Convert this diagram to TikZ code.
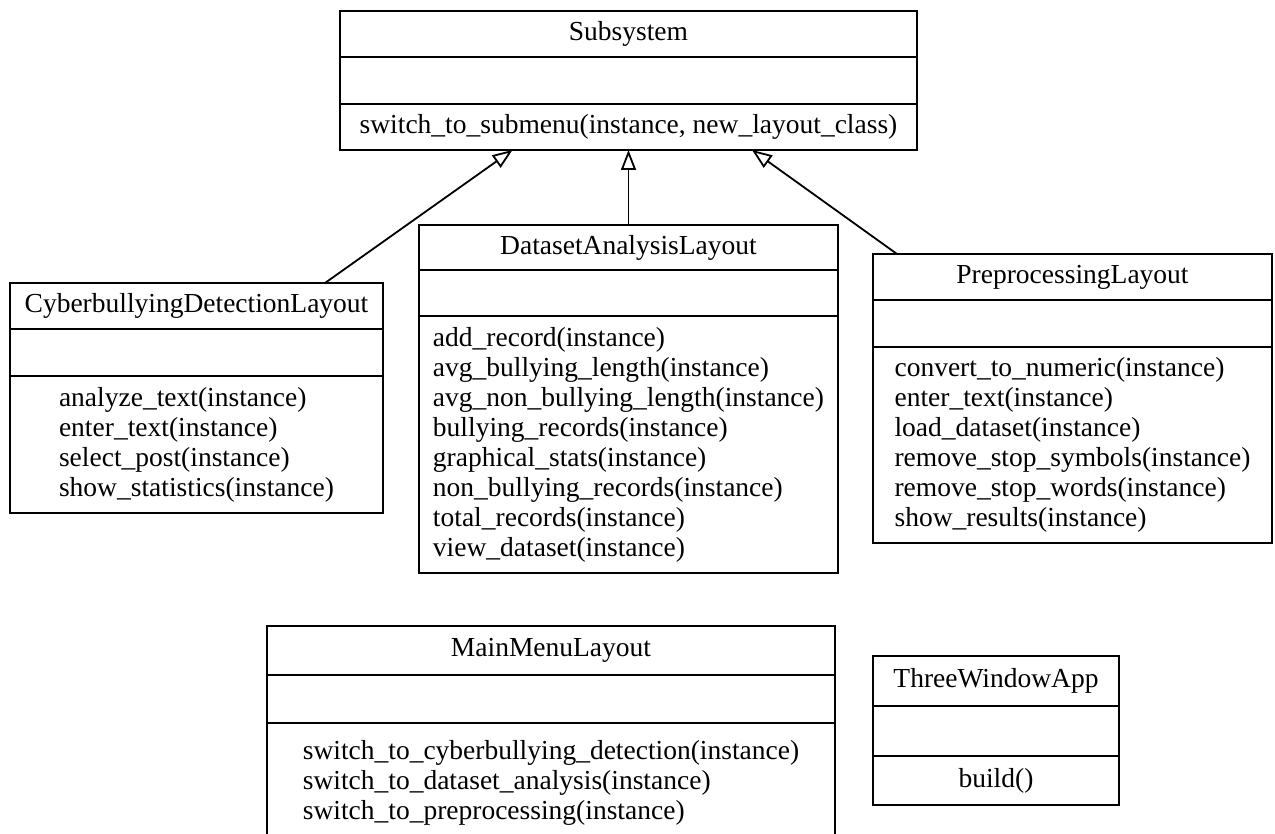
\documentclass[tikz,border=0pt]{standalone}
\usepackage{fontspec}
\setmainfont{Liberation Serif}
\usetikzlibrary{positioning,arrows.meta}

\begin{document}
\begin{tikzpicture}[x=0.5pt,y=-0.5pt,
		font=\fontsize{13.75pt}{15pt}\selectfont,
		part/.style={draw, line width=1pt, outer sep=0pt, inner sep=0pt, align=center},
		ops/.style={part, align=left},
		gen/.style={line width=0.9pt, -{Triangle[open,length=10pt,width=7.5pt]}}]
		\useasboundingbox (0,0) rectangle (1275,834);
		
		% Subsystem
		\node[part, anchor=north west, minimum width=288.5pt, minimum height=23pt] (sub) at (340,11) {Subsystem};
		\node[part, below=0pt of sub, minimum width=288.5pt, minimum height=23.5pt] (sub-attr) {};
		\node[ops, below=0pt of sub-attr, minimum width=288.5pt, minimum height=23pt] (sub-ops) {switch\_to\_submenu(instance, new\_layout\_class)};
		
		% CyberbullyingDetectionLayout
		\node[part, anchor=north west, minimum width=186.5pt, minimum height=23pt] (cyb) at (10,283) {CyberbullyingDetectionLayout};
		\node[part, below=0pt of cyb, minimum width=186.5pt, minimum height=23.5pt] (cyb-attr) {};
		\node[ops, below=0pt of cyb-attr, minimum width=186.5pt, minimum height=68.5pt] (cyb-ops) {analyze\_text(instance)\\enter\_text(instance)\\select\_post(instance)\\show\_statistics(instance)};
		
		% DatasetAnalysisLayout
		\node[part, anchor=north west, minimum width=209.5pt, minimum height=22.5pt] (dat) at (419,225) {DatasetAnalysisLayout};
		\node[part, below=0pt of dat, minimum width=209.5pt, minimum height=23pt] (dat-attr) {};
		\node[ops, below=0pt of dat-attr, minimum width=209.5pt, minimum height=128.5pt] (dat-ops) {add\_record(instance)\\avg\_bullying\_length(instance)\\avg\_non\_bullying\_length(instance)\\bullying\_records(instance)\\graphical\_stats(instance)\\non\_bullying\_records(instance)\\total\_records(instance)\\view\_dataset(instance)};
		
		% PreprocessingLayout
		\node[part, anchor=north west, minimum width=199.5pt, minimum height=23pt] (pre) at (873,254) {PreprocessingLayout};
		\node[part, below=0pt of pre, minimum width=199.5pt, minimum height=23.5pt] (pre-attr) {};
		\node[ops, below=0pt of pre-attr, minimum width=199.5pt, minimum height=98pt] (pre-ops) {convert\_to\_numeric(instance)\\enter\_text(instance)\\load\_dataset(instance)\\remove\_stop\_symbols(instance)\\remove\_stop\_words(instance)\\show\_results(instance)};
		
		% MainMenuLayout
		\node[part, anchor=north west, minimum width=284pt, minimum height=24.5pt] (menu) at (267,626) {MainMenuLayout};
		\node[part, below=0pt of menu, minimum width=284pt, minimum height=24pt] (menu-attr) {};
		\node[ops, below=0pt of menu-attr, minimum width=284pt, minimum height=60pt] (menu-ops) {switch\_to\_cyberbullying\_detection(instance)\\switch\_to\_dataset\_analysis(instance)\\switch\_to\_preprocessing(instance)};
		
		% ThreeWindowApp
		\node[part, anchor=north west, minimum width=123pt, minimum height=25pt] (app) at (873,656) {ThreeWindowApp};
		\node[part, below=0pt of app, minimum width=123pt, minimum height=25pt] (app-attr) {};
		\node[ops, below=0pt of app-attr, minimum width=123pt, minimum height=24.5pt] (app-ops) {build()};
		
		% generalisations
		\draw[gen] ([xshift=-29pt]cyb.north east) -- ([xshift=-58pt]sub-ops.south);
		\draw[gen] (dat.north) -- (sub-ops.south);
		\draw[gen] ([xshift=12pt]pre.north west) -- ([xshift=61.75pt]sub-ops.south);
\end{tikzpicture}
\end{document}
